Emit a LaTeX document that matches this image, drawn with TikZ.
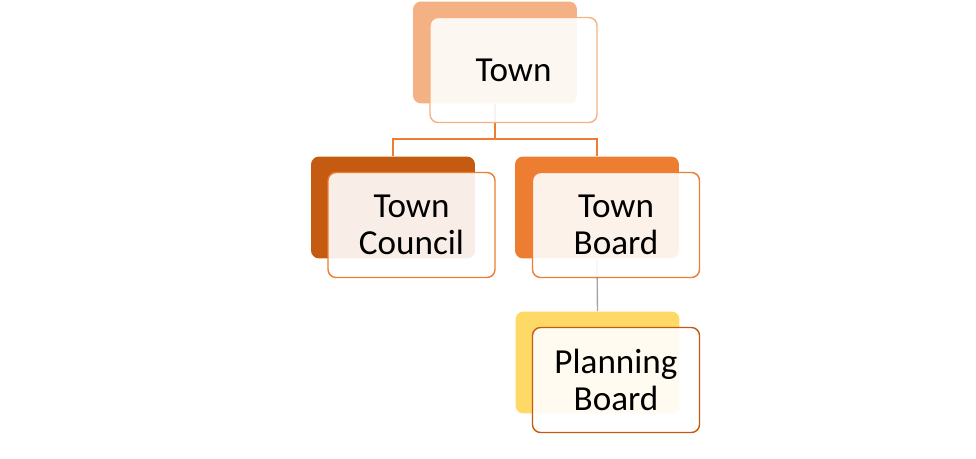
\documentclass[tikz,border=0pt]{standalone}
\usepackage{fontspec}
\setmainfont{Carlito}
\usetikzlibrary{positioning}
\definecolor{peach}{HTML}{F4B183}
\definecolor{rust}{HTML}{C55A11}
\definecolor{tangerine}{HTML}{ED7D31}
\definecolor{sun}{HTML}{FFD966}
\definecolor{linegray}{HTML}{A5A5A5}

\begin{document}
\begin{tikzpicture}[x=0.02cm,y=-0.02cm,
    backbox/.style={rectangle,rounded corners=0.16cm,minimum width=3.28cm,
                    minimum height=2.04cm,inner sep=0pt},
    frontbox/.style={rectangle,rounded corners=0.16cm,minimum width=3.34cm,
                     minimum height=2.1cm,inner sep=0pt,line width=0.8pt,
                     fill=white,fill opacity=0.9,text opacity=1,align=center,
                     font=\fontsize{20}{21}\selectfont},
    link/.style={draw=tangerine,line width=0.8pt}]
\useasboundingbox (0,0) rectangle (976,459);

% back boxes
\node[backbox,fill=peach]     (townback)    at (495,52.5)  {};
\node[backbox,fill=rust]      (councilback) at (393,207.5) {};
\node[backbox,fill=tangerine] (boardback)   at (597,207.5) {};
\node[backbox,fill=sun]       (planback)    at (597.5,362.5) {};

% connectors
\draw[link] (townback.south) -- ++(0,35) -| (councilback.north);
\draw[link] (townback.south) -- ++(0,35) -| (boardback.north);
\draw[draw=linegray,line width=0.8pt] (boardback.south) -- (planback.north);

% front boxes
\node[frontbox,draw=peach]     (townfront)    at (513.5,70)  {Town};
\node[frontbox,draw=tangerine] (councilfront) at (411.5,225) {Town\\Council};
\node[frontbox,draw=tangerine] (boardfront)   at (616,225)   {Town\\Board};
\node[frontbox,draw=rust]      (planfront)    at (616,380)   {Planning\\Board};
\end{tikzpicture}
\end{document}
